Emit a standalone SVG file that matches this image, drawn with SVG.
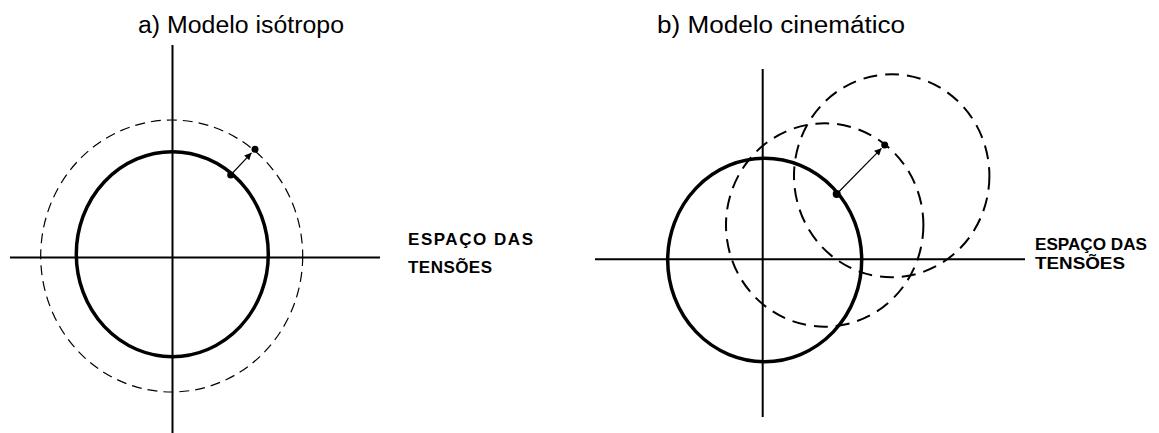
<svg xmlns="http://www.w3.org/2000/svg" width="1159" height="433" viewBox="0 0 1159 433">
<style>
.axis{stroke:#000;stroke-width:2;fill:none}
.solid{stroke:#000;stroke-width:3.5;fill:none}
.dashA{stroke:#000;stroke-width:1.2;fill:none;stroke-dasharray:10 6}
.dashB{stroke:#000;stroke-width:2;fill:none;stroke-dasharray:14 8}
.title{font-family:"Liberation Sans",Arial,sans-serif;font-size:23px;fill:#000}
.lab{font-family:"Liberation Sans",Arial,sans-serif;font-size:17px;font-weight:bold;fill:#000}
.arr{stroke:#000;stroke-width:1.2;fill:none}
.dot{fill:#000}
</style>
<defs>
<marker id="ah" viewBox="0 0 10 10" refX="10" refY="5" markerWidth="9" markerHeight="7" markerUnits="userSpaceOnUse" orient="auto">
<path d="M0,0 L10,5 L0,10 z" fill="#000"/>
</marker>
</defs>
<rect width="1159" height="433" fill="#fff"/>
<g id="panel-a">
<text class="title" x="138" y="33" textLength="206" lengthAdjust="spacingAndGlyphs">a) Modelo isótropo</text>
<line class="axis" x1="172.5" y1="45" x2="172.5" y2="433"/>
<line class="axis" x1="10" y1="257.5" x2="380" y2="257.5"/>
<ellipse class="solid" cx="172.3" cy="254.2" rx="96" ry="102.5"/>
<ellipse class="dashA" cx="171.7" cy="256" rx="131" ry="136"/>
<circle class="dot" cx="230.7" cy="175" r="3.5"/>
<circle class="dot" cx="255" cy="149.3" r="3.5"/>
<text class="lab" x="408" y="245" textLength="125" lengthAdjust="spacing">ESPAÇO DAS</text>
<text class="lab" x="408" y="272.7" textLength="84" lengthAdjust="spacing">TENSÕES</text>
</g>
<g id="panel-b">
<text class="title" x="657" y="33" textLength="248" lengthAdjust="spacingAndGlyphs">b) Modelo cinemático</text>
<line class="axis" x1="762.7" y1="69" x2="762.7" y2="417"/>
<line class="axis" x1="595" y1="259.3" x2="1025" y2="259.3"/>
<ellipse class="solid" cx="764.7" cy="260" rx="97" ry="101.7"/>
<ellipse class="dashB" cx="824.7" cy="225" rx="98.7" ry="101.7"/>
<ellipse class="dashB" cx="891.7" cy="175.8" rx="97.7" ry="101.5"/>
<circle class="dot" cx="836.7" cy="194" r="4"/>
<circle class="dot" cx="884.7" cy="145" r="3.5"/>
<text class="lab" x="1035" y="250" textLength="112" lengthAdjust="spacingAndGlyphs">ESPAÇO DAS</text>
<text class="lab" x="1035" y="269.3" textLength="90" lengthAdjust="spacingAndGlyphs">TENSÕES</text>
</g>
<g id="connectors">
<line class="arr" x1="230.7" y1="175" x2="251.5" y2="152.8" marker-end="url(#ah)"/>
<line class="arr" x1="836.7" y1="194" x2="881.5" y2="148.3" marker-end="url(#ah)"/>
</g>
</svg>
